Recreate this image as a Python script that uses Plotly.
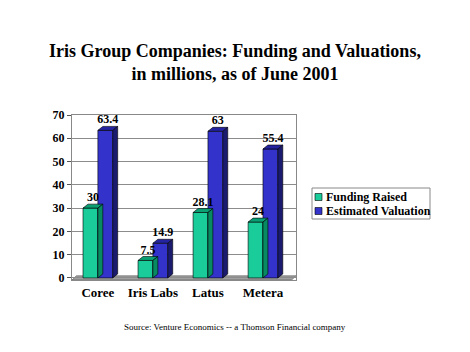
import plotly.graph_objects as go

categories = ["Coree", "Iris Labs", "Latus", "Metera"]
funding = [30, 7.5, 28.1, 24]
valuation = [63.4, 14.9, 63, 55.4]
funding_labels = ["30", "7.5", "28.1", "24"]
valuation_labels = ["63.4", "14.9", "63", "55.4"]

W = 0.27    # bar width in category units
DX = 0.09   # depth offset x
DY = 1.7    # depth offset y

FONT = "Liberation Serif, Times New Roman, serif"

series = [
    dict(name="Funding Raised", vals=funding, labels=funding_labels, off=-W,
         front="#19CC99", top="#0A9E72", side="#078A62"),
    dict(name="Estimated Valuation", vals=valuation, labels=valuation_labels, off=0.0,
         front="#3333CC", top="#2424A0", side="#1A1A6E"),
]

# plot area in pixels (for paper-coordinate conversion)
PL, PR, PT, PB = 72, 296, 115, 280
def px(x):
    return (x - PL) / (PR - PL)
def py(y):
    return (PB - y) / (PB - PT)

fig = go.Figure()
xs = list(range(len(categories)))

for s in series:
    lefts = [i + s["off"] for i in xs]
    fig.add_trace(go.Bar(
        x=[l + W / 2 for l in lefts], y=s["vals"], width=W, name=s["name"],
        marker=dict(color=s["front"], line=dict(color="#000000", width=0.6)),
        showlegend=False,
    ))
    tx, ty, sx, sy = [], [], [], []
    for l, v in zip(lefts, s["vals"]):
        r = l + W
        tx += [l, r, r + DX, l + DX, l, None]
        ty += [v, v, v + DY, v + DY, v, None]
        sx += [r, r, r + DX, r + DX, r, None]
        sy += [0, v, v + DY, DY, 0, None]
    fig.add_trace(go.Scatter(x=tx, y=ty, fill="toself", fillcolor=s["top"], mode="lines",
                             line=dict(color="#000000", width=0.6), showlegend=False, hoverinfo="skip"))
    fig.add_trace(go.Scatter(x=sx, y=sy, fill="toself", fillcolor=s["side"], mode="lines",
                             line=dict(color="#000000", width=0.6), showlegend=False, hoverinfo="skip"))
    fig.add_trace(go.Scatter(
        x=[l + W / 2 + DX / 2 for l in lefts], y=[v + DY for v in s["vals"]],
        text=s["labels"], mode="text", textposition="top center",
        textfont=dict(family=FONT, size=12, color="#000000"),
        texttemplate="<b>%{text}</b>", showlegend=False, hoverinfo="skip", cliponaxis=False))

# floor
fig.add_shape(type="path", xref="x", yref="y",
              path="M -0.47,-0.9 L 3.52,-0.9 L 3.6,0.9 L -0.39,0.9 Z",
              fillcolor="#A0A0A0", line=dict(color="#555555", width=0.6), layer="below")

# custom legend (box, swatches, labels)
fig.add_shape(type="rect", xref="paper", yref="paper",
              x0=px(312), x1=px(430), y0=py(219), y1=py(188),
              fillcolor="white", line=dict(color="#888888", width=1))
annotations = []
for k, s in enumerate(series):
    cy = 197 + k * 14
    fig.add_shape(type="rect", xref="paper", yref="paper",
                  x0=px(315), x1=px(322), y0=py(cy + 3.5), y1=py(cy - 3.5),
                  fillcolor=s["front"], line=dict(color="#000000", width=0.6))
    annotations.append(dict(text="<b>%s</b>" % s["name"], x=px(324), xref="paper", xanchor="left",
                            y=py(cy), yref="paper", yanchor="middle", showarrow=False,
                            font=dict(family=FONT, size=12, color="#000000")))

annotations.append(dict(text="Source: Venture Economics -- a Thomson Financial company",
                        x=px(235), xref="paper", xanchor="center",
                        y=py(327), yref="paper", yanchor="middle", showarrow=False,
                        font=dict(family=FONT, size=9, color="#000000")))

fig.update_layout(
    width=470, height=352,
    margin=dict(l=PL, r=470 - PR, t=PT, b=352 - PB),
    paper_bgcolor="white", plot_bgcolor="white",
    barmode="overlay",
    title=dict(text="<b>Iris Group Companies: Funding and Valuations,<br>in millions, as of June 2001</b>",
               x=0.5, xanchor="center", y=1 - 57 / 352, yanchor="middle", yref="container",
               font=dict(family=FONT, size=18, color="#000000")),
    showlegend=False,
    xaxis=dict(range=[-0.47, 3.6], tickvals=xs, ticktext=["<b>%s</b>" % c for c in categories],
               tickfont=dict(family=FONT, size=13, color="#000000"),
               showgrid=False, zeroline=False, showline=True, linecolor="#888888", mirror=True,
               ticks="", fixedrange=True),
    yaxis=dict(range=[-0.9, 70], tickvals=[0, 10, 20, 30, 40, 50, 60, 70],
               ticktext=["<b>%d</b>" % v for v in [0, 10, 20, 30, 40, 50, 60, 70]],
               tickfont=dict(family=FONT, size=12, color="#000000"),
               showgrid=True, gridcolor="#8C8C8C", gridwidth=1, zeroline=False,
               showline=True, linecolor="#888888", mirror=True, ticks="outside", ticklen=4,
               tickcolor="#555555"),
    annotations=annotations,
)

fig.write_html("out.html")
